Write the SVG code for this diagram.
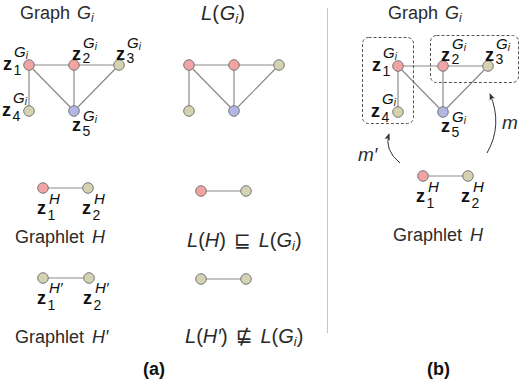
<svg xmlns="http://www.w3.org/2000/svg" width="520" height="382" viewBox="0 0 520 382">
<defs>
<style>
.t{font-family:"Liberation Sans",Arial,sans-serif;font-size:18px;fill:#2b2b2b}
.m{font-family:"Liberation Sans",Arial,sans-serif;font-style:italic;fill:#2b2b2b}
.u{font-family:"Liberation Sans",Arial,sans-serif;font-style:normal;fill:#2b2b2b}
.sym{font-family:"DejaVu Sans",sans-serif;font-style:normal}
.z{font-family:"Liberation Sans",Arial,sans-serif;font-weight:bold;font-size:18px;fill:#111}
.s{font-family:"Liberation Sans",Arial,sans-serif;font-size:14px;fill:#111}
.g{font-family:"Liberation Sans",Arial,sans-serif;font-style:italic;font-size:15px;fill:#111}
.gi{font-size:10px}
.e{stroke:#8a8a8a;stroke-width:1.2;fill:none}
.nr{fill:#f2a3a3;stroke:#777;stroke-width:1}
.nb{fill:#d5d2b2;stroke:#777;stroke-width:1}
.nv{fill:#b3b6e4;stroke:#777;stroke-width:1}
.box{fill:none;stroke:#555;stroke-width:1;stroke-dasharray:3 2}
.arr{fill:none;stroke:#333;stroke-width:1}
.lab{font-family:"Liberation Sans",Arial,sans-serif;font-weight:bold;font-size:18px;fill:#111}
</style>
<marker id="ah" viewBox="0 0 8 8" refX="7" refY="4" markerWidth="7" markerHeight="7" markerUnits="userSpaceOnUse" orient="auto">
<path d="M0,0.8 L8,4 L0,7.2 L2,4 Z" fill="#333"/>
</marker>
</defs>
<rect width="520" height="382" fill="#fff"/>

<!-- divider -->
<line x1="327.5" y1="8" x2="327.5" y2="333" stroke="#c4c4c4" stroke-width="1"/>

<!-- titles -->
<text class="t" x="20" y="19">Graph <tspan class="m" dx="2">G</tspan><tspan class="m" font-size="12" dy="3">i</tspan></text>
<text class="m" x="201" y="20" font-size="20">L<tspan class="u">(</tspan><tspan dx="1">G</tspan><tspan font-size="13" dy="3">i</tspan><tspan class="u" dy="-3">)</tspan></text>
<text class="t" x="388" y="19">Graph <tspan class="m" dx="2">G</tspan><tspan class="m" font-size="12" dy="3">i</tspan></text>

<!-- connectors -->
<g id="connectors">
<path class="e" d="M29,65 L119,65 M29,65 L29,111 M29,65 L74,111 M74,65 L74,111 M119,65 L74,111"/>
<path class="e" d="M189,65 L279,65 M189,65 L189,111 M189,65 L234,111 M234,65 L234,111 M279,65 L234,111"/>
<path class="e" d="M43,188 L88,188 M43,278 L89,278"/>
<path class="e" d="M201,191 L246,191 M201,279 L246,279"/>
<path class="e" d="M398,66 L488,66 M398,66 L398,112 M398,66 L443,112 M443,66 L443,112 M488,66 L443,112"/>
<path class="e" d="M423,176 L468,176"/>
<path class="arr" d="M400,163 Q384,150 389,134" marker-end="url(#ah)"/>
<path class="arr" d="M487,153 Q503,125 490,94" marker-end="url(#ah)"/>
</g>

<!-- left graph G_i -->
<g id="g1">
<circle class="nr" cx="29" cy="65" r="5.3"/>
<text class="z" x="3" y="70">z</text><text class="s" x="13.5" y="75">1</text>
<text class="g" x="14" y="57">G<tspan class="gi" dy="2">i</tspan></text>
</g>
<g id="g2">
<circle class="nr" cx="74" cy="65" r="5.3"/>
<text class="z" x="72" y="60">z</text><text class="s" x="82.5" y="63">2</text>
<text class="g" x="83" y="48">G<tspan class="gi" dy="2">i</tspan></text>
</g>
<g id="g3">
<circle class="nb" cx="119" cy="65" r="5.3"/>
<text class="z" x="116" y="60">z</text><text class="s" x="126.5" y="63">3</text>
<text class="g" x="127" y="48">G<tspan class="gi" dy="2">i</tspan></text>
</g>
<g id="g4">
<circle class="nb" cx="29" cy="111" r="5.3"/>
<text class="z" x="2" y="116">z</text><text class="s" x="12.5" y="121">4</text>
<text class="g" x="13" y="103">G<tspan class="gi" dy="2">i</tspan></text>
</g>
<g id="g5">
<circle class="nv" cx="74" cy="111" r="5.3"/>
<text class="z" x="72" y="131">z</text><text class="s" x="82.5" y="136">5</text>
<text class="g" x="83" y="121">G<tspan class="gi" dy="2">i</tspan></text>
</g>

<!-- L(G_i) -->
<g id="l1"><circle class="nr" cx="189" cy="65" r="5.3"/></g>
<g id="l2"><circle class="nr" cx="234" cy="65" r="5.3"/></g>
<g id="l3"><circle class="nb" cx="279" cy="65" r="5.3"/></g>
<g id="l4"><circle class="nb" cx="189" cy="111" r="5.3"/></g>
<g id="l5"><circle class="nv" cx="234" cy="111" r="5.3"/></g>

<!-- Graphlet H left -->
<g id="h1">
<circle class="nr" cx="43" cy="188" r="5.3"/>
<text class="z" x="37" y="214">z</text><text class="s" x="47.5" y="220">1</text>
<text class="g" x="49" y="204">H</text>
</g>
<g id="h2">
<circle class="nb" cx="88" cy="188" r="5.3"/>
<text class="z" x="82" y="214">z</text><text class="s" x="92.5" y="220">2</text>
<text class="g" x="94" y="204">H</text>
</g>
<text class="t" x="15" y="243" font-size="17">Graphlet <tspan class="m" dx="3">H</tspan></text>

<!-- Graphlet H' left -->
<g id="hp1">
<circle class="nb" cx="43" cy="278" r="5.3"/>
<text class="z" x="37" y="304">z</text><text class="s" x="47.5" y="310">1</text>
<text class="g" x="49" y="293">H′</text>
</g>
<g id="hp2">
<circle class="nb" cx="89" cy="278" r="5.3"/>
<text class="z" x="83" y="304">z</text><text class="s" x="93.5" y="310">2</text>
<text class="g" x="95" y="293">H′</text>
</g>
<text class="t" x="15" y="343" font-size="17">Graphlet <tspan class="m" dx="3">H′</tspan></text>

<!-- L(H), L(H') -->
<g id="lh1"><circle class="nr" cx="201" cy="191" r="5.3"/></g>
<g id="lh2"><circle class="nb" cx="246" cy="191" r="5.3"/></g>
<text class="m" x="187" y="247" font-size="20">L<tspan class="u">(</tspan>H<tspan class="u">)</tspan><tspan class="sym" dx="8">⊑</tspan><tspan dx="8">L</tspan><tspan class="u">(</tspan>G<tspan font-size="13" dy="3">i</tspan><tspan class="u" dy="-3">)</tspan></text>
<g id="lhp1"><circle class="nb" cx="201" cy="279" r="5.3"/></g>
<g id="lhp2"><circle class="nb" cx="246" cy="279" r="5.3"/></g>
<text class="m" x="185" y="343" font-size="20">L<tspan class="u">(</tspan>H′<tspan class="u">)</tspan><tspan class="sym" dx="8">⋢</tspan><tspan dx="8">L</tspan><tspan class="u">(</tspan>G<tspan font-size="13" dy="3">i</tspan><tspan class="u" dy="-3">)</tspan></text>

<!-- right panel -->
<rect class="box" x="362.5" y="37.5" width="51" height="86" rx="6"/>
<rect class="box" x="430.5" y="35.5" width="88" height="47" rx="6"/>
<g id="r1">
<circle class="nr" cx="398" cy="66" r="5.3"/>
<text class="z" x="372" y="71">z</text><text class="s" x="382.5" y="76">1</text>
<text class="g" x="383" y="58">G<tspan class="gi" dy="2">i</tspan></text>
</g>
<g id="r2">
<circle class="nr" cx="443" cy="66" r="5.3"/>
<text class="z" x="441" y="61">z</text><text class="s" x="451.5" y="64">2</text>
<text class="g" x="452" y="49">G<tspan class="gi" dy="2">i</tspan></text>
</g>
<g id="r3">
<circle class="nb" cx="488" cy="66" r="5.3"/>
<text class="z" x="485" y="61">z</text><text class="s" x="495.5" y="64">3</text>
<text class="g" x="496" y="49">G<tspan class="gi" dy="2">i</tspan></text>
</g>
<g id="r4">
<circle class="nb" cx="398" cy="112" r="5.3"/>
<text class="z" x="371" y="117">z</text><text class="s" x="381.5" y="122">4</text>
<text class="g" x="382" y="104">G<tspan class="gi" dy="2">i</tspan></text>
</g>
<g id="r5">
<circle class="nv" cx="443" cy="112" r="5.3"/>
<text class="z" x="441" y="132">z</text><text class="s" x="451.5" y="137">5</text>
<text class="g" x="452" y="122">G<tspan class="gi" dy="2">i</tspan></text>
</g>
<text class="m" x="358" y="161" font-size="19">m′</text>
<text class="m" x="502" y="129" font-size="19">m</text>
<g id="rh1">
<circle class="nr" cx="423" cy="176" r="5.3"/>
<text class="z" x="416" y="202">z</text><text class="s" x="426.5" y="208">1</text>
<text class="g" x="428" y="192">H</text>
</g>
<g id="rh2">
<circle class="nb" cx="468" cy="176" r="5.3"/>
<text class="z" x="461" y="202">z</text><text class="s" x="471.5" y="208">2</text>
<text class="g" x="473" y="192">H</text>
</g>
<text class="t" x="393" y="241" font-size="19">Graphlet <tspan class="m" dx="3">H</tspan></text>

<text class="lab" x="143" y="375">(a)</text>
<text class="lab" x="427" y="375">(b)</text>
</svg>
